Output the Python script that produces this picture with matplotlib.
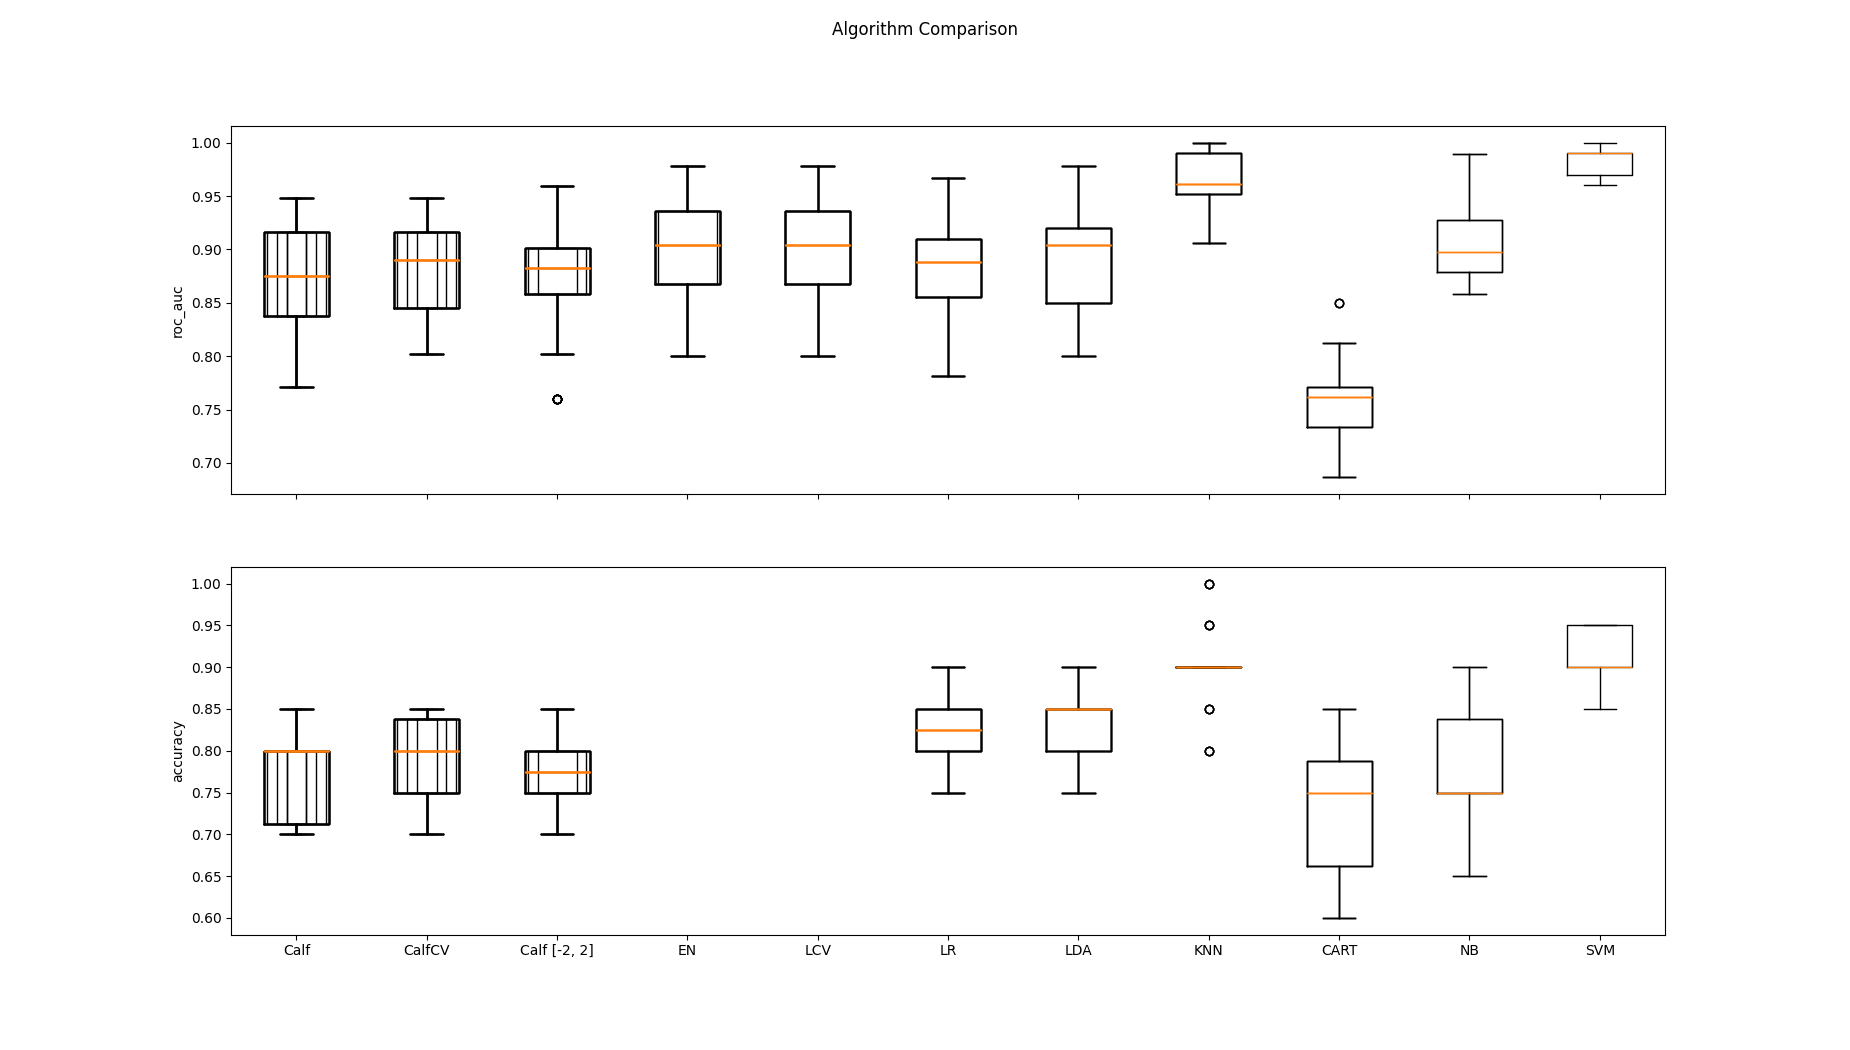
import numpy as np
import matplotlib
matplotlib.use("Agg")
import matplotlib.pyplot as plt

names = ["Calf", "CalfCV", "Calf [-2, 2]", "EN", "LCV", "LR", "LDA",
         "KNN", "CART", "NB", "SVM"]

nan = float("nan")

# roc_auc box statistics
auc_whislo = [0.771, 0.802, 0.802, 0.800, 0.800, 0.781, 0.800, 0.906, 0.687, 0.858, 0.960]
auc_q1 = [0.8375, 0.845, 0.8587, 0.868, 0.868, 0.8556, 0.850, 0.952, 0.734, 0.879, 0.970]
auc_med = [0.8747, 0.8897, 0.883, 0.904, 0.904, 0.888, 0.904, 0.9616, 0.762, 0.898, 0.990]
auc_q3 = [0.9165, 0.9165, 0.901, 0.9356, 0.9356, 0.910, 0.920, 0.9906, 0.771, 0.928, 0.990]
auc_whishi = [0.948, 0.948, 0.959, 0.978, 0.978, 0.967, 0.978, 1.000, 0.8125, 0.9897, 1.000]
auc_fliers = [[], [], [0.760], [], [], [], [], [], [0.850], [], []]

# accuracy box statistics (EN and LCV have no accuracy results)
acc_whislo = [0.70, 0.70, 0.70, nan, nan, 0.75, 0.75, 0.90, 0.60, 0.65, 0.85]
acc_q1 = [0.7125, 0.75, 0.75, nan, nan, 0.80, 0.80, 0.90, 0.6625, 0.75, 0.90]
acc_med = [0.80, 0.80, 0.775, nan, nan, 0.825, 0.85, 0.90, 0.75, 0.75, 0.90]
acc_q3 = [0.80, 0.8375, 0.80, nan, nan, 0.85, 0.85, 0.90, 0.7875, 0.8375, 0.95]
acc_whishi = [0.85, 0.85, 0.85, nan, nan, 0.90, 0.90, 0.90, 0.85, 0.90, 0.95]
acc_fliers = [[], [], [], [], [], [], [], [0.80, 0.85, 0.95, 1.00], [], [], []]


def build_stats(whislo, q1, med, q3, whishi, fliers):
    out = []
    for i in range(len(names)):
        out.append(dict(whislo=whislo[i], q1=q1[i], med=med[i], q3=q3[i],
                        whishi=whishi[i], fliers=np.array(fliers[i], dtype=float),
                        label=names[i]))
    return out


auc_stats = build_stats(auc_whislo, auc_q1, auc_med, auc_q3, auc_whishi, auc_fliers)
acc_stats = build_stats(acc_whislo, acc_q1, acc_med, acc_q3, acc_whishi, acc_fliers)

fig, axes = plt.subplots(2, 1, sharex=True, figsize=(18.5, 10.5), dpi=100)
fig.suptitle("Algorithm Comparison")

for ax, stats, ylabel in [(axes[0], auc_stats, "roc_auc"),
                          (axes[1], acc_stats, "accuracy")]:
    # boxes were redrawn cumulatively as each model was added
    for n in range(1, len(names) + 1):
        ax.bxp(stats[:n], positions=list(range(1, n + 1)), manage_ticks=False)
    ax.set_ylabel(ylabel)

axes[1].set_xticks(list(range(1, len(names) + 1)), names)
axes[1].set_xlim(0.5, len(names) + 0.5)

fig.savefig("out.png", dpi=100)
